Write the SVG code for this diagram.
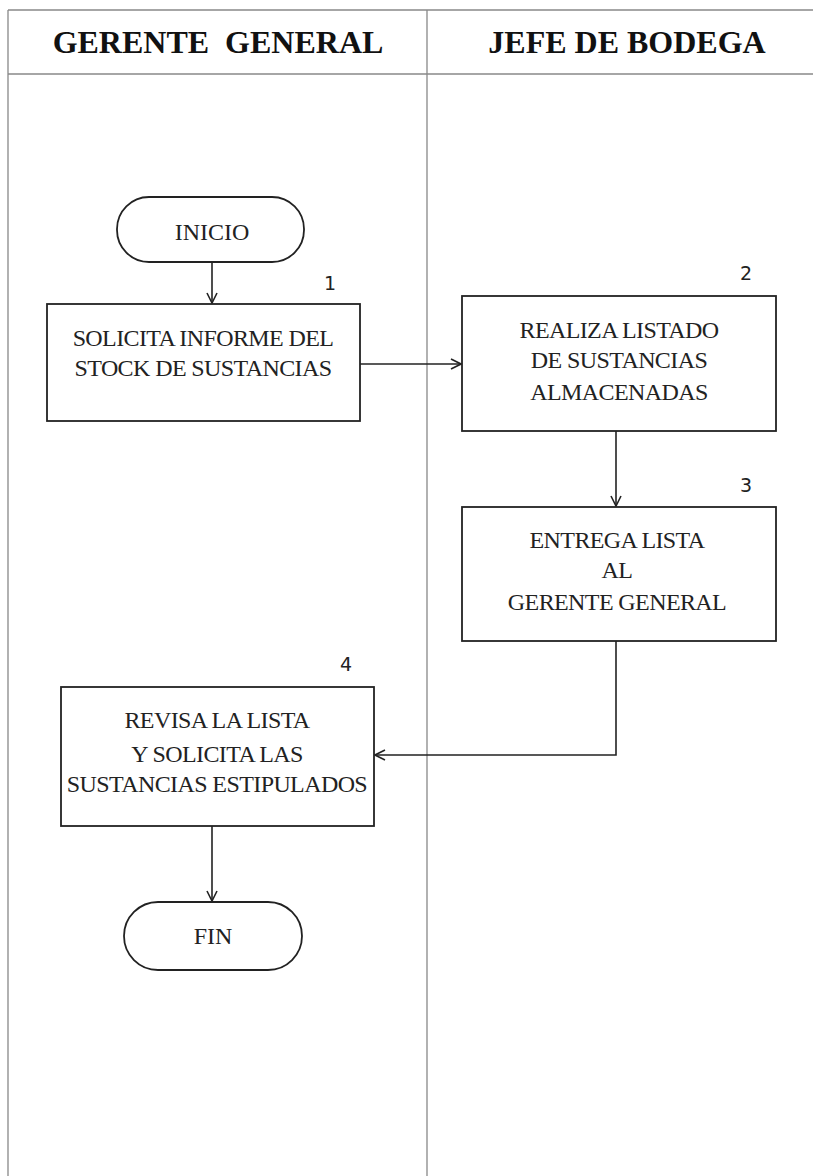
<svg xmlns="http://www.w3.org/2000/svg" width="813" height="1176" viewBox="0 0 813 1176">
<defs>
<style>
.lane{stroke:#888;stroke-width:1.3;fill:none}
.box{fill:#fff;stroke:#222;stroke-width:1.8}
.t{font-family:"Liberation Serif","Times New Roman",serif;font-size:24px;letter-spacing:-0.6px;fill:#222;text-anchor:middle}
.h{font-family:"Liberation Serif","Times New Roman",serif;font-size:32px;font-weight:bold;fill:#111;text-anchor:middle;white-space:pre}
.n{font-family:"DejaVu Sans","Liberation Sans",sans-serif;font-size:19px;fill:#222;text-anchor:middle}
.c{stroke:#222;stroke-width:1.6;fill:none}
</style>
<marker id="arr" viewBox="0 0 12 12" refX="11" refY="6" markerWidth="12" markerHeight="12" markerUnits="userSpaceOnUse" orient="auto">
<path d="M1,1 L11,6 L1,11" fill="none" stroke="#222" stroke-width="1.6"/>
</marker>
</defs>
<rect width="813" height="1176" fill="#fff"/>
<g id="lanes">
<line class="lane" x1="8" y1="10" x2="813" y2="10"/>
<line class="lane" x1="8" y1="74" x2="813" y2="74"/>
<line class="lane" x1="8" y1="10" x2="8" y2="1176"/>
<line class="lane" x1="427" y1="10" x2="427" y2="1176"/>
<text class="h" x="218" y="53" xml:space="preserve">GERENTE  GENERAL</text>
<text class="h" x="627" y="53">JEFE DE BODEGA</text>
</g>
<g id="connectors">
<line class="c" x1="212" y1="262" x2="212" y2="303" marker-end="url(#arr)"/>
<line class="c" x1="360" y1="364" x2="461" y2="364" marker-end="url(#arr)"/>
<line class="c" x1="616" y1="431" x2="616" y2="506" marker-end="url(#arr)"/>
<polyline class="c" points="616,641 616,755 375,755" marker-end="url(#arr)"/>
<line class="c" x1="212" y1="826" x2="212" y2="901" marker-end="url(#arr)"/>
</g>
<g id="inicio">
<rect class="box" x="117" y="197" width="187" height="65" rx="32" ry="32"/>
<text class="t" x="212" y="240" style="letter-spacing:0">INICIO</text>
</g>
<g id="step1">
<rect class="box" x="47" y="304" width="313" height="117"/>
<text class="t" x="203" y="346">SOLICITA INFORME DEL</text>
<text class="t" x="203" y="376">STOCK DE SUSTANCIAS</text>
<text class="n" x="330" y="290">1</text>
</g>
<g id="step2">
<rect class="box" x="462" y="296" width="314" height="135"/>
<text class="t" x="619" y="338">REALIZA LISTADO</text>
<text class="t" x="619" y="368">DE SUSTANCIAS</text>
<text class="t" x="619" y="400">ALMACENADAS</text>
<text class="n" x="746" y="280">2</text>
</g>
<g id="step3">
<rect class="box" x="462" y="507" width="314" height="134"/>
<text class="t" x="617" y="548">ENTREGA LISTA</text>
<text class="t" x="617" y="578">AL</text>
<text class="t" x="617" y="610">GERENTE GENERAL</text>
<text class="n" x="746" y="492">3</text>
</g>
<g id="step4">
<rect class="box" x="61" y="687" width="313" height="139"/>
<text class="t" x="217" y="728">REVISA LA LISTA</text>
<text class="t" x="217" y="762">Y SOLICITA LAS</text>
<text class="t" x="217" y="792">SUSTANCIAS ESTIPULADOS</text>
<text class="n" x="346" y="671">4</text>
</g>
<g id="fin">
<rect class="box" x="124" y="902" width="178" height="68" rx="34" ry="34"/>
<text class="t" x="213" y="944" style="letter-spacing:0">FIN</text>
</g>
</svg>
